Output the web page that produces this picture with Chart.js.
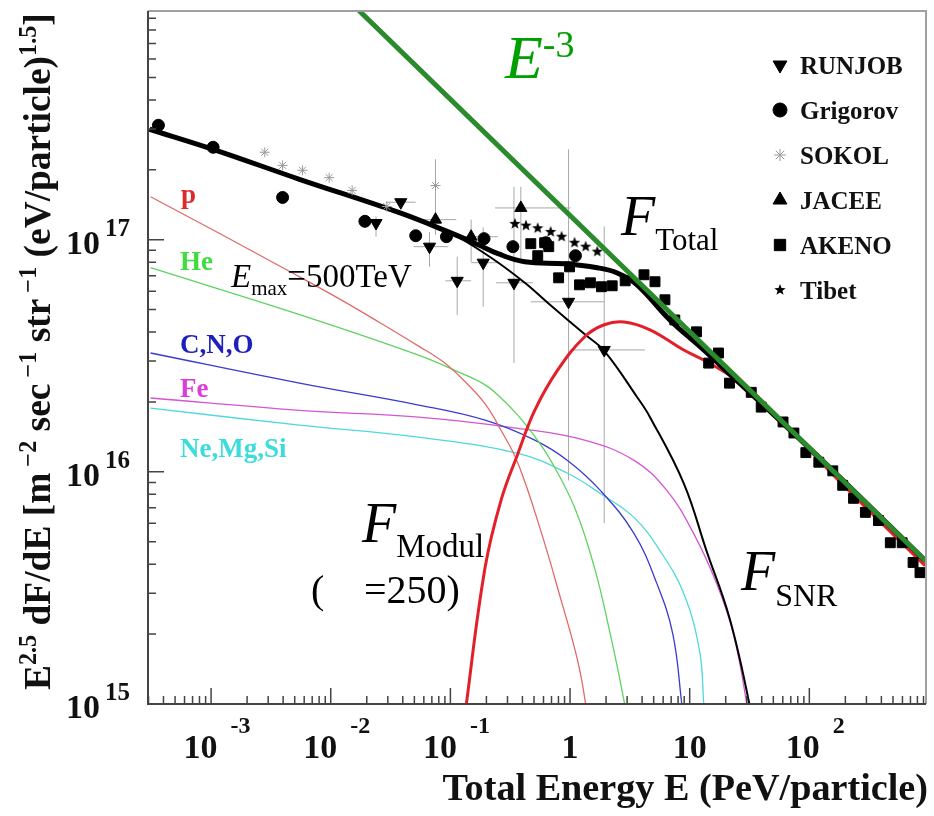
<!DOCTYPE html>
<html lang="en">
<head>
  <meta charset="UTF-8" />
  <title>Cosmic ray energy spectrum</title>
  <script src="https://cdn.jsdelivr.net/npm/chart.js"></script>
  <style>
    body { margin: 0; background: #fff; }
    #wrap { width: 934px; height: 816px; }
  </style>
</head>
<body>
  <div id="wrap"><canvas id="spectrum" width="934" height="816"></canvas></div>

  <script>
    // axis ranges (PeV / particle, E^2.5 dF/dE)
    const xMin = 2.97e-4, xMax = 944, yMin = 1e15, yMax = 9.66e17;
    const xTickLabels = [[1e-3, '10', '-3'], [1e-2, '10', '-2'], [1e-1, '10', '-1'], [1, '1', ''], [10, '10', ''], [100, '10', '2']];
    const yTickLabels = [[1e15, '10', '15'], [1e16, '10', '16'], [1e17, '10', '17']];

    // model components (SNR, Emax = 500 TeV)
    const protonE = [3.12e-4, 1.19e-3, 4.27e-3, 1.18e-2, 2.52e-2, 5.42e-2, 8.75e-2, 0.131, 0.195, 0.265, 0.367, 0.569, 0.834, 1.15, 1.35, 1.54];
    const protonF = [1.53e17, 1.06e17, 7.42e16, 5.56e16, 4.42e16, 3.48e16, 2.97e16, 2.46e16, 1.96e16, 1.51e16, 1.09e16, 5.58e15, 2.85e15, 1.56e15, 1.0e15, 5.7e14];
    const heliumE = [3.12e-4, 6.26e-3, 5.42e-2, 0.117, 0.195, 0.265, 0.367, 0.507, 0.689, 1.09, 1.60, 2.17, 2.83, 3.12];
    const heliumF = [7.57e16, 4.65e16, 3.18e16, 2.69e16, 2.37e16, 2.08e16, 1.75e16, 1.42e16, 1.12e16, 7.03e15, 3.87e15, 2.00e15, 1.03e15, 7.6e14];
    const cnoE = [3.12e-4, 5.48e-3, 5.42e-2, 0.195, 0.507, 0.953, 1.79, 3.43, 5.32, 7.23, 8.59, 9.1];
    const cnoF = [3.25e16, 2.41e16, 1.94e16, 1.67e16, 1.37e16, 1.12e16, 8.32e15, 5.42e15, 3.30e15, 2.00e15, 1.0e15, 7.6e14];
    const ironE = [3.12e-4, 5.48e-3, 5.42e-2, 0.367, 1.32, 3.43, 6.44, 10.8, 16.8, 23.2, 29.7, 31.5];
    const ironF = [2.08e16, 1.84e16, 1.72e16, 1.54e16, 1.37e16, 1.12e16, 8.32e15, 5.42e15, 3.30e15, 2.00e15, 1.03e15, 7.6e14];
    const nemgsiE = [3.12e-4, 5.48e-3, 5.42e-2, 0.367, 0.953, 1.79, 3.43, 5.64, 8.92, 12.1, 13.1, 13.6];
    const nemgsiF = [1.88e16, 1.59e16, 1.41e16, 1.20e16, 9.86e15, 8.07e15, 6.35e15, 4.58e15, 2.99e15, 1.69e15, 1.0e15, 7.6e14];

    const snrE = [3.06e-4, 1.04e-3, 5.48e-3, 3.70e-2, 9.62e-2, 0.219, 0.419, 0.650, 1.32, 1.93, 3.63, 4.66, 8.92, 13.8, 21.5, 31.5, 33.3];
    const snrF = [2.99e17, 2.45e17, 1.82e17, 1.31e17, 1.08e17, 8.36e16, 6.52e16, 5.35e16, 3.92e16, 3.32e16, 2.10e16, 1.72e16, 8.92e15, 4.58e15, 2.35e15, 1.0e15, 7.6e14];
    const modulE = [0.126, 0.136, 0.195, 0.265, 0.367, 0.507, 0.787, 1.32, 1.93, 2.83, 4.66, 8.92, 13.1, 23.2, 39.6, 166, 927];
    const modulF = [6.9e14, 1.0e15, 3.87e15, 7.54e15, 1.20e16, 1.84e16, 2.74e16, 3.81e16, 4.30e16, 4.42e16, 4.09e16, 3.35e16, 3.03e16, 2.54e16, 2.04e16, 9.47e15, 3.94e15];
    const totalE = [3.06e-4, 1.04e-3, 5.48e-3, 3.70e-2, 9.62e-2, 0.171, 0.250, 0.419, 0.900, 1.69, 2.48, 3.63, 6.82, 13.1, 24.5, 46.1, 166, 927];
    const totalF = [2.99e17, 2.45e17, 1.82e17, 1.31e17, 1.08e17, 9.51e16, 8.70e16, 8.03e16, 7.88e16, 7.57e16, 7.19e16, 6.39e16, 4.51e16, 3.35e16, 2.48e16, 1.84e16, 9.86e15, 4.15e15];
    const powerLawE = [0.0150, 950];
    const powerLawF = [1.04e18, 4.11e15];

    // measurements
    const runjobE = [2.39e-2, 3.85e-2, 6.69e-2, 0.114, 0.188, 0.340, 0.972, 1.93];
    const runjobF = [1.18e17, 1.45e17, 9.33e16, 6.65e16, 7.96e16, 6.52e16, 5.40e16, 3.35e16];
    const runjobXErr = [null, [2.89e-2, 5.13e-2], [4.93e-2, 9.62e-2], [9.10e-2, 0.149], [0.149, 0.250], [0.241, 0.489], [0.470, 1.93], [1.01, 4.23]];
    const runjobYErr = [[1.03e17, 1.26e17], null, [7.64e16, 1.08e17], [4.74e16, 8.45e16], [5.14e16, 1.13e17], [2.94e16, 1.69e17], [9.18e15, 2.45e17], [6.0e15, 1.14e17]];
    const grigorovE = [3.63e-4, 1.04e-3, 3.96e-3, 1.93e-2, 5.13e-2, 9.27e-2, 0.191, 0.333, 0.627, 1.11];
    const grigorovF = [3.11e17, 2.50e17, 1.52e17, 1.20e17, 1.04e17, 1.03e17, 1.01e17, 9.33e16, 9.70e16, 8.53e16];
    const sokolE = [2.81e-3, 3.96e-3, 5.80e-3, 9.70e-3, 1.51e-2, 2.94e-2, 7.51e-2];
    const sokolF = [2.38e17, 2.09e17, 1.99e17, 1.85e17, 1.63e17, 1.39e17, 1.71e17];
    const sokolYErr = [null, null, null, null, null, null, [1.20e17, 2.22e17]];
    const jaceeE = [7.51e-2, 0.149, 0.388];
    const jaceeF = [1.22e17, 1.03e17, 1.37e17];
    const jaceeXErr = [[5.42e-2, 0.112], [0.106, 0.250], [0.236, 1.01]];
    const jaceeYErr = [[1.05e17, 1.37e17], [8.03e16, 1.22e17], [8.0e16, 1.69e17]];
    const akenoE = [0.470, 0.537, 0.614, 0.664, 0.803, 0.991, 1.20, 1.48, 1.83, 2.25, 2.89, 4.15, 5.13, 6.21, 7.51, 11.4, 14.4, 17.4, 21.5, 32.7, 39.6, 60.3, 74.3, 93.5, 120, 157, 190, 234, 294, 378, 475, 597, 736, 841];
    const akenoF = [9.61e16, 8.53e16, 9.70e16, 9.33e16, 6.85e16, 7.64e16, 6.39e16, 6.52e16, 6.27e16, 6.33e16, 6.65e16, 7.06e16, 6.59e16, 5.51e16, 4.51e16, 4.01e16, 2.94e16, 3.25e16, 2.41e16, 2.20e16, 1.90e16, 1.64e16, 1.47e16, 1.21e16, 1.10e16, 1.01e16, 8.75e15, 7.69e15, 6.69e15, 6.17e15, 4.95e15, 4.95e15, 4.07e15, 3.68e15];
    const tibetE = [0.346, 0.428, 0.537, 0.689, 0.850, 1.09, 1.35, 1.69];
    const tibetF = [1.17e17, 1.15e17, 1.12e17, 1.08e17, 1.03e17, 9.70e16, 9.33e16, 8.88e16];

    const serif = '"Liberation Serif", "Times New Roman", serif';

    function pts(xs, ys) { return xs.map((x, i) => ({ x, y: ys[i] })); }

    function starImage(r) {
      const c = document.createElement('canvas');
      c.width = c.height = 2 * r + 2;
      const g = c.getContext('2d');
      g.fillStyle = '#000';
      g.beginPath();
      for (let i = 0; i < 10; i++) {
        const a = -Math.PI / 2 + i * Math.PI / 5;
        const rr = i % 2 ? r * 0.42 : r;
        g.lineTo(r + 1 + rr * Math.cos(a), r + 1 + rr * Math.sin(a));
      }
      g.closePath();
      g.fill();
      return c;
    }
    const tibetStar = starImage(6);

    function curve(label, xs, ys, color, width, order) {
      return { label, data: pts(xs, ys), showLine: true, borderColor: color, borderWidth: width,
        pointRadius: 0, fill: false, tension: 0.4, order };
    }
    function marks(label, xs, ys, style, radius, opts) {
      return Object.assign({ label, data: pts(xs, ys), showLine: false, pointStyle: style, pointRadius: radius,
        backgroundColor: '#000', borderColor: '#000', borderWidth: 1, order: 2, legend: true }, opts || {});
    }

    const datasets = [
      curve('E^-3', powerLawE, powerLawF, '#2b8a2b', 5, 0),
      marks('RUNJOB', runjobE, runjobF, 'triangle', 7, { rotation: 180, xErr: runjobXErr, yErr: runjobYErr }),
      marks('Grigorov', grigorovE, grigorovF, 'circle', 6),
      marks('SOKOL', sokolE, sokolF, 'star', 5, { borderColor: '#9a9a9a', backgroundColor: '#9a9a9a', yErr: sokolYErr }),
      marks('JACEE', jaceeE, jaceeF, 'triangle', 7, { xErr: jaceeXErr, yErr: jaceeYErr }),
      marks('AKENO', akenoE, akenoF, 'rect', 7),
      marks('Tibet', tibetE, tibetF, tibetStar, 6),
      curve('F_Total', totalE, totalF, '#000', 5, 5),
      curve('F_Modul', modulE, modulF, '#e3202a', 3, 6),
      curve('F_SNR', snrE, snrF, '#000', 2, 7),
      curve('p', protonE, protonF, '#e06a6a', 1.3, 10),
      curve('He', heliumE, heliumF, '#5fd35f', 1.3, 10),
      curve('C,N,O', cnoE, cnoF, '#3a3acf', 1.3, 10),
      curve('Fe', ironE, ironF, '#d455d4', 1.3, 10),
      curve('Ne,Mg,Si', nemgsiE, nemgsiF, '#4fd8d8', 1.3, 10)
    ];

    const errorBars = {
      id: 'errorBars',
      beforeDatasetsDraw(chart) {
        const { ctx } = chart, xs = chart.scales.x, ys = chart.scales.y;
        ctx.save();
        ctx.strokeStyle = '#a8a8a8';
        ctx.lineWidth = 1;
        chart.data.datasets.forEach((ds, di) => {
          if (!ds.xErr && !ds.yErr) return;
          chart.getDatasetMeta(di).data.forEach((pt, i) => {
            ctx.beginPath();
            const xe = ds.xErr && ds.xErr[i], ye = ds.yErr && ds.yErr[i];
            if (xe) { ctx.moveTo(xs.getPixelForValue(xe[0]), pt.y); ctx.lineTo(xs.getPixelForValue(xe[1]), pt.y); }
            if (ye) { ctx.moveTo(pt.x, ys.getPixelForValue(ye[0])); ctx.lineTo(pt.x, ys.getPixelForValue(ye[1])); }
            ctx.stroke();
          });
        });
        ctx.restore();
      }
    };

    const frame = {
      id: 'frame',
      afterDatasetsDraw(chart) {
        const { ctx, chartArea: a } = chart, xs = chart.scales.x, ys = chart.scales.y;
        ctx.save();
        ctx.lineWidth = 2;
        ctx.strokeStyle = '#a0a0a0';
        ctx.beginPath();
        ctx.moveTo(a.left, a.top); ctx.lineTo(a.right, a.top); ctx.lineTo(a.right, a.bottom);
        ctx.stroke();
        ctx.strokeStyle = '#444';
        ctx.beginPath();
        ctx.moveTo(a.left, a.top); ctx.lineTo(a.left, a.bottom); ctx.lineTo(a.right, a.bottom);
        ctx.stroke();
        ctx.lineWidth = 1.5;
        ctx.beginPath();
        for (let e = -4; e <= 3; e++) {
          for (let m = 1; m <= 9; m++) {
            const v = m * Math.pow(10, e);
            if (v >= xMin && v <= xMax) {
              const px = xs.getPixelForValue(v);
              ctx.moveTo(px, a.bottom); ctx.lineTo(px, a.bottom - (m === 1 ? 16 : 8));
            }
          }
        }
        for (let e = 14; e <= 18; e++) {
          for (let m = 1; m <= 9; m++) {
            const v = m * Math.pow(10, e);
            if (v >= yMin && v <= yMax) {
              const py = ys.getPixelForValue(v);
              ctx.moveTo(a.left, py); ctx.lineTo(a.left + (m === 1 ? 16 : 8), py);
            }
          }
        }
        ctx.stroke();
        ctx.restore();
      }
    };

    function runsWidth(ctx, runs) {
      let w = 0;
      runs.forEach(r => { ctx.font = r[1]; w += ctx.measureText(r[0]).width; });
      return w;
    }
    function drawRuns(ctx, runs, x, y) {
      let cx = x;
      runs.forEach(r => { ctx.font = r[1]; ctx.fillText(r[0], cx, y + (r[2] || 0)); cx += ctx.measureText(r[0]).width; });
    }

    const texts = {
      id: 'texts',
      afterDraw(chart) {
        const { ctx } = chart, xs = chart.scales.x, ys = chart.scales.y;
        ctx.save();
        ctx.fillStyle = '#111';
        ctx.textBaseline = 'alphabetic';
        ctx.textAlign = 'left';

        // x tick labels
        xTickLabels.forEach(([v, base, exp]) => {
          const px = xs.getPixelForValue(v);
          ctx.font = 'bold 34px ' + serif;
          const wb = ctx.measureText(base).width;
          ctx.font = 'bold 24px ' + serif;
          const we = exp ? ctx.measureText(exp).width + 13 : 0;
          const x0 = px + (exp ? 6 : 0) - (wb + we) / 2;
          ctx.font = 'bold 34px ' + serif;
          ctx.fillText(base, x0, 758);
          if (exp) { ctx.font = 'bold 24px ' + serif; ctx.fillText(exp, x0 + wb + 13, 733); }
        });
        // y tick labels
        yTickLabels.forEach(([v, base, exp]) => {
          const py = ys.getPixelForValue(v);
          ctx.font = 'bold 34px ' + serif;
          ctx.textAlign = 'right';
          ctx.fillText(base, 100, py + 14);
          ctx.textAlign = 'left';
          ctx.font = 'bold 25px ' + serif;
          ctx.fillText(exp, 105, py - 4);
        });

        // x title
        ctx.font = 'bold 32px ' + serif;
        const xt = 'Total Energy E (PeV/particle)';
        const xs32 = 32 * 485 / ctx.measureText(xt).width;
        ctx.font = 'bold ' + xs32.toFixed(1) + 'px ' + serif;
        ctx.textAlign = 'right';
        ctx.fillText(xt, 928, 800);
        ctx.textAlign = 'left';

        // y title (rotated)
        const yRuns = s => [
          ['E', 'bold ' + 34 * s + 'px ' + serif, 0],
          ['2.5', 'bold ' + 22 * s + 'px ' + serif, -13 * s],
          [' dF/dE [m', 'bold ' + 34 * s + 'px ' + serif, 0],
          [' \u22122', 'bold ' + 22 * s + 'px ' + serif, -13 * s],
          [' sec', 'bold ' + 34 * s + 'px ' + serif, 0],
          [' \u22121', 'bold ' + 22 * s + 'px ' + serif, -13 * s],
          [' str', 'bold ' + 34 * s + 'px ' + serif, 0],
          [' \u22121', 'bold ' + 22 * s + 'px ' + serif, -13 * s],
          [' (eV/particle)', 'bold ' + 34 * s + 'px ' + serif, 0],
          ['1.5', 'bold ' + 22 * s + 'px ' + serif, -13 * s],
          [']', 'bold ' + 34 * s + 'px ' + serif, 0]
        ];
        const ys1 = 677 / runsWidth(ctx, yRuns(1));
        ctx.save();
        ctx.translate(50, 690);
        ctx.rotate(-Math.PI / 2);
        drawRuns(ctx, yRuns(ys1), 0, 0);
        ctx.restore();

        // annotations
        ctx.fillStyle = '#00a000';
        drawRuns(ctx, [['E', 'italic 62px ' + serif, 0], ['-3', '38px ' + serif, -21]], 505, 78);

        ctx.fillStyle = '#000';
        drawRuns(ctx, [['F', 'italic 56px ' + serif, 0], ['Total', '31px ' + serif, 15]], 621, 235);
        drawRuns(ctx, [['F', 'italic 56px ' + serif, 0], ['Modul', '33px ' + serif, 15]], 362, 542);
        drawRuns(ctx, [['F', 'italic 56px ' + serif, 0], ['SNR', '32px ' + serif, 16]], 741, 590);
        drawRuns(ctx, [['E', 'italic 33px ' + serif, 0], ['max', '21px ' + serif, 8], ['=500TeV', '33px ' + serif, 0]], 231, 287);
        ctx.font = '40px ' + serif;
        ctx.fillText('(', 311, 603);
        ctx.fillText('=250)', 364, 603);

        const compLabels = [['p', '#e02a2a', 181, 203], ['He', '#3fdc3f', 180, 270], ['C,N,O', '#1e1ebe', 180, 353],
          ['Fe', '#dc3cdc', 180, 397], ['Ne,Mg,Si', '#3cdcdc', 180, 457]];
        ctx.font = 'bold 27px ' + serif;
        compLabels.forEach(([t, c, x, y]) => { ctx.fillStyle = c; ctx.fillText(t, x, y); });

        // legend
        const drawPoint = Chart.helpers && Chart.helpers.drawPoint;
        let row = 0;
        chart.data.datasets.forEach(ds => {
          if (!ds.legend) return;
          const cy = 65 + row * 45;
          ctx.fillStyle = ds.backgroundColor;
          ctx.strokeStyle = ds.borderColor;
          ctx.lineWidth = 1;
          if (drawPoint) drawPoint(ctx, { pointStyle: ds.pointStyle, radius: ds.pointRadius + 1, rotation: ds.rotation || 0, borderWidth: 1 }, 780, cy);
          ctx.fillStyle = '#111';
          ctx.font = 'bold 25px ' + serif;
          ctx.fillText(ds.label, 800, cy + 9);
          row++;
        });
        ctx.restore();
      }
    };

    new Chart(document.getElementById('spectrum'), {
      type: 'scatter',
      data: { datasets },
      options: {
        responsive: false,
        animation: false,
        devicePixelRatio: 1,
        layout: { padding: { left: 148, right: 3, top: 11, bottom: 112 } },
        plugins: { legend: { display: false }, tooltip: { enabled: false } },
        scales: {
          x: { type: 'logarithmic', min: xMin, max: xMax, display: false },
          y: { type: 'logarithmic', min: yMin, max: yMax, display: false }
        }
      },
      plugins: [errorBars, frame, texts]
    });
  </script>
</body>
</html>
